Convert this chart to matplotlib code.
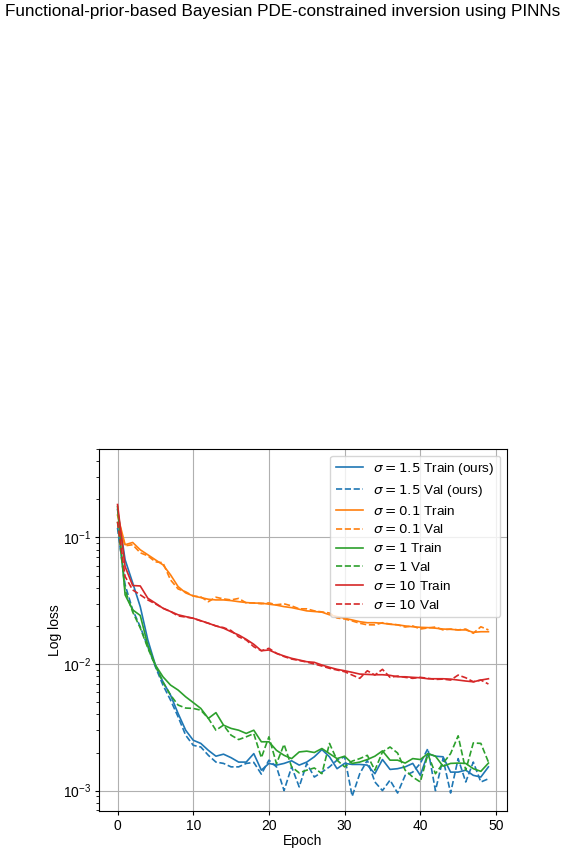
import numpy as np
import matplotlib
matplotlib.use("Agg")
import matplotlib.pyplot as plt

plt.rcParams['font.family'] = ['Liberation Sans', 'DejaVu Sans']
plt.rcParams['xtick.major.size'] = 3
plt.rcParams['ytick.major.size'] = 3
plt.rcParams['xtick.major.pad'] = 2.5
plt.rcParams['ytick.major.pad'] = 2.5

header = "Functional-prior-based Bayesian PDE-constrained inversion using PINNs"

epochs = np.arange(50)

# sigma = 1.5 (ours)
train_15 = [0.166, 0.0666, 0.0438, 0.0284, 0.0155, 0.00982, 0.00724, 0.00569, 0.00407, 0.00300,
            0.00250, 0.00236, 0.00208, 0.00187, 0.00194, 0.00182, 0.00168, 0.00168, 0.00196, 0.00145,
            0.00164, 0.00159, 0.00164, 0.00172, 0.00159, 0.00168, 0.00185, 0.00211, 0.00185, 0.00149,
            0.00164, 0.00161, 0.00161, 0.00159, 0.00136, 0.00176, 0.00147, 0.00149, 0.00154, 0.00164,
            0.00132, 0.00196, 0.00187, 0.00185, 0.00140, 0.00140, 0.00145, 0.00132, 0.00128, 0.00154]
val_15 = [0.119, 0.0422, 0.0268, 0.0197, 0.0137, 0.00952, 0.00682, 0.00519, 0.00383, 0.00274,
          0.00228, 0.00221, 0.00190, 0.00168, 0.00164, 0.00154, 0.00154, 0.00164, 0.00167, 0.00135,
          0.00174, 0.00154, 0.00100, 0.00154, 0.00107, 0.00164, 0.00128, 0.00140, 0.00154, 0.00174,
          0.00185, 0.000901, 0.00136, 0.00174, 0.00117, 0.00100, 0.00121, 0.000957, 0.00132, 0.00140,
          0.00164, 0.00215, 0.00100, 0.00179, 0.000957, 0.00179, 0.00117, 0.00168, 0.00117, 0.00124]

# sigma = 0.1
train_01 = [0.150, 0.0876, 0.0913, 0.0799, 0.0730, 0.0666, 0.0608, 0.0507, 0.0409, 0.0365,
            0.0345, 0.0335, 0.0325, 0.0321, 0.0321, 0.0317, 0.0311, 0.0306, 0.0303, 0.0303,
            0.0297, 0.0292, 0.0284, 0.0279, 0.0271, 0.0263, 0.0260, 0.0257, 0.0245, 0.0237,
            0.0230, 0.0223, 0.0216, 0.0212, 0.0212, 0.0210, 0.0206, 0.0204, 0.0200, 0.0197,
            0.0195, 0.0194, 0.0192, 0.0189, 0.0188, 0.0186, 0.0186, 0.0178, 0.0180, 0.0180]
val_01 = [0.133, 0.0860, 0.0876, 0.0757, 0.0716, 0.0642, 0.0631, 0.0462, 0.0392, 0.0372,
          0.0345, 0.0339, 0.0311, 0.0337, 0.0327, 0.0321, 0.0330, 0.0304, 0.0304, 0.0299,
          0.0304, 0.0294, 0.0299, 0.0288, 0.0273, 0.0273, 0.0263, 0.0258, 0.0253, 0.0231,
          0.0227, 0.0219, 0.0210, 0.0204, 0.0204, 0.0212, 0.0207, 0.0204, 0.0196, 0.0200,
          0.0189, 0.0193, 0.0196, 0.0186, 0.0189, 0.0186, 0.0189, 0.0175, 0.0197, 0.0186]

# sigma = 1
train_1 = [0.175, 0.0352, 0.0268, 0.0242, 0.0141, 0.00982, 0.00793, 0.00682, 0.00623, 0.00551,
           0.00496, 0.00446, 0.00372, 0.00413, 0.00329, 0.00310, 0.00300, 0.00283, 0.00300, 0.00243,
           0.00243, 0.00208, 0.00190, 0.00179, 0.00202, 0.00205, 0.00200, 0.00215, 0.00196, 0.00179,
           0.00187, 0.00164, 0.00168, 0.00176, 0.00187, 0.00206, 0.00174, 0.00174, 0.00165, 0.00179,
           0.00176, 0.00196, 0.00187, 0.00156, 0.00164, 0.00165, 0.00164, 0.00149, 0.00142, 0.00165]
val_1 = [0.133, 0.0385, 0.0258, 0.0193, 0.0134, 0.00969, 0.00720, 0.00569, 0.00474, 0.00449,
         0.00446, 0.00432, 0.00372, 0.00300, 0.00329, 0.00274, 0.00253, 0.00266, 0.00282, 0.00182,
         0.00266, 0.00163, 0.00232, 0.00154, 0.00138, 0.00145, 0.00151, 0.00136, 0.00236, 0.00174,
         0.00154, 0.00171, 0.00179, 0.00190, 0.00145, 0.00202, 0.00221, 0.00198, 0.00145, 0.00128,
         0.00117, 0.00194, 0.00136, 0.00164, 0.00196, 0.00271, 0.00145, 0.00238, 0.00236, 0.00168]

# sigma = 10
train_10 = [0.182, 0.0589, 0.0417, 0.0414, 0.0331, 0.0303, 0.0276, 0.0260, 0.0245, 0.0237,
            0.0230, 0.0220, 0.0210, 0.0200, 0.0192, 0.0180, 0.01697, 0.01568, 0.01432, 0.01274,
            0.01291, 0.01215, 0.01157, 0.01109, 0.01076, 0.01043, 0.01031, 0.00982, 0.00942, 0.00908,
            0.00885, 0.00860, 0.00833, 0.00828, 0.00823, 0.00823, 0.00814, 0.00793, 0.00793, 0.00785,
            0.00779, 0.00765, 0.00765, 0.00765, 0.00760, 0.00747, 0.00734, 0.00724, 0.00747, 0.00765]
val_10 = [0.133, 0.0491, 0.0385, 0.0352, 0.0321, 0.0299, 0.0276, 0.0260, 0.0240, 0.0235,
          0.0230, 0.0219, 0.0210, 0.0200, 0.0194, 0.0184, 0.0164, 0.0155, 0.0137, 0.01274,
          0.01331, 0.01215, 0.01146, 0.01095, 0.01066, 0.01037, 0.0100, 0.00964, 0.00925, 0.00897,
          0.00870, 0.00818, 0.00771, 0.00885, 0.00818, 0.00908, 0.00785, 0.00804, 0.00785, 0.00771,
          0.00785, 0.00771, 0.00756, 0.00760, 0.00747, 0.00818, 0.00779, 0.00724, 0.00747, 0.00695]

series = [
    (r'$\sigma = 1.5$ Train (ours)', train_15, 'C0', '-'),
    (r'$\sigma = 1.5$ Val (ours)', val_15, 'C0', '--'),
    (r'$\sigma = 0.1$ Train', train_01, 'C1', '-'),
    (r'$\sigma = 0.1$ Val', val_01, 'C1', '--'),
    (r'$\sigma = 1$ Train', train_1, 'C2', '-'),
    (r'$\sigma = 1$ Val', val_1, 'C2', '--'),
    (r'$\sigma = 10$ Train', train_10, 'C3', '-'),
    (r'$\sigma = 10$ Val', val_10, 'C3', '--'),
]

fig = plt.figure(figsize=(5.65, 8.51), dpi=100)
fig.text(0.5, 0.986, header, ha='center', va='center', fontsize=12.3)

ax = fig.add_axes([0.1752, 0.047, 0.7221, 0.4254])
for label, vals, color, ls in series:
    ax.plot(epochs, vals, color=color, linestyle=ls, linewidth=1.2, label=label)

ax.set_yscale('log')
ax.set_ylim(6.9e-4, 0.5)
ax.set_xticks([0, 10, 20, 30, 40, 50])
ax.set_xlabel('Epoch', labelpad=1)
ax.set_ylabel('Log loss', labelpad=1)
ax.grid(True)
ax.legend(loc='upper right', fontsize=9.7, labelspacing=0.43)

fig.savefig('out.png', dpi=100)
